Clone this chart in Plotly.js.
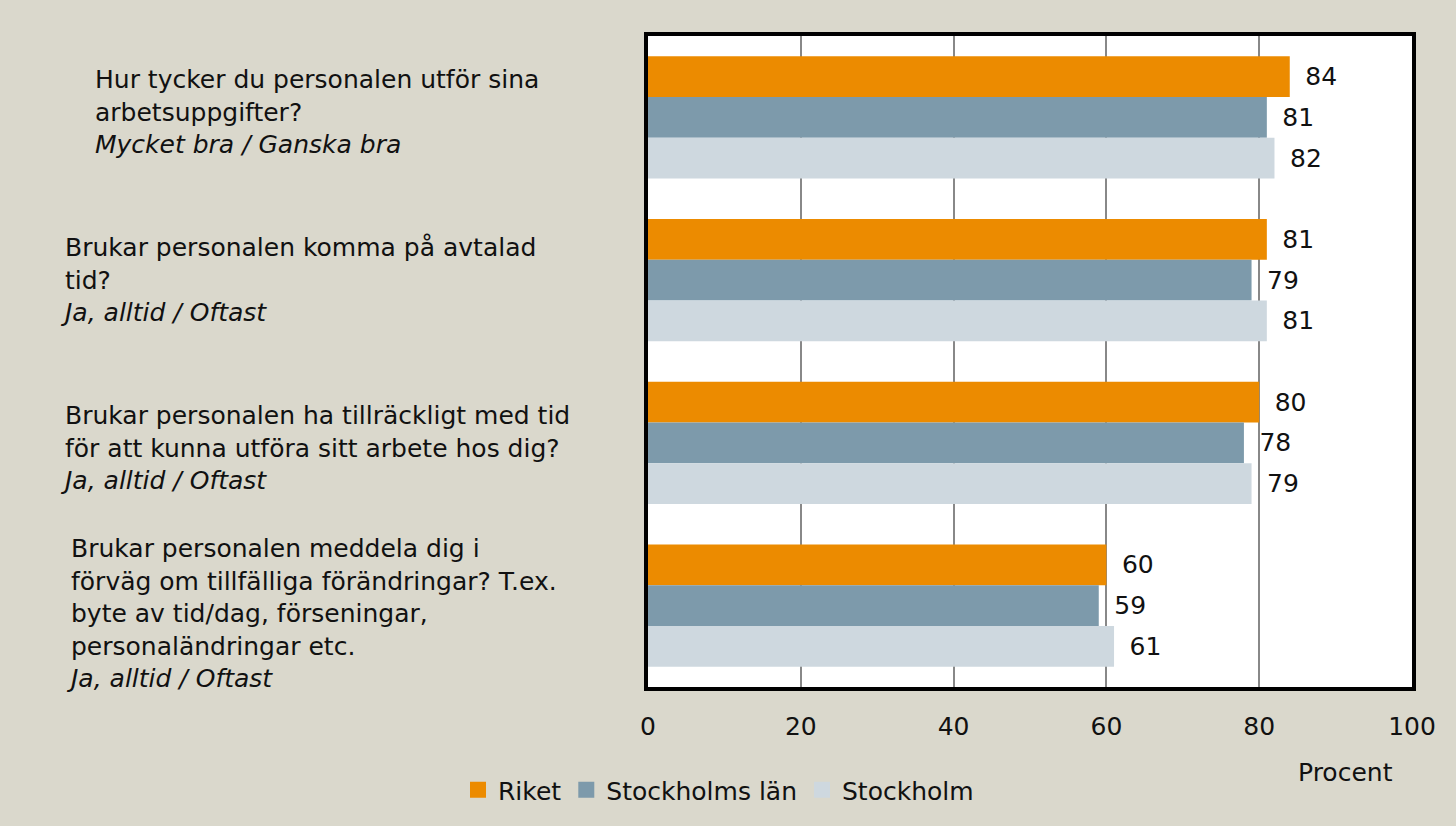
<!DOCTYPE html>
<html>
<head>
<meta charset="utf-8">
<script src="https://cdn.plot.ly/plotly-3.0.1.min.js"></script>
<style>
  html, body { margin: 0; padding: 0; background: #DAD8CC; }
  #chart { width: 1456px; height: 826px; }
</style>
</head>
<body>
<div id="chart"></div>
<script>
// ---- data ----
const categories = [
  "Hur tycker du personalen utför sina arbetsuppgifter?",
  "Brukar personalen komma på avtalad tid?",
  "Brukar personalen ha tillräckligt med tid för att kunna utföra sitt arbete hos dig?",
  "Brukar personalen meddela dig i förväg om tillfälliga förändringar? T.ex. byte av tid/dag, förseningar, personaländringar etc."
];
const categoryLabels = [
  "Hur tycker du personalen utför sina<br>arbetsuppgifter?<br><i>Mycket bra / Ganska bra</i>",
  "Brukar personalen komma på avtalad<br>tid?<br><i>Ja, alltid / Oftast</i>",
  "Brukar personalen ha tillräckligt med tid<br>för att kunna utföra sitt arbete hos dig?<br><i>Ja, alltid / Oftast</i>",
  "Brukar personalen meddela dig i<br>förväg om tillfälliga förändringar? T.ex.<br>byte av tid/dag, förseningar,<br>personaländringar etc.<br><i>Ja, alltid / Oftast</i>"
];
const seriesNames = ["Riket", "Stockholms län", "Stockholm"];
const riket = [84, 81, 80, 60];
const stockholmsLan = [81, 79, 78, 59];
const stockholm = [82, 81, 79, 61];
const xTickValues = [0, 20, 40, 60, 80, 100];
const xAxisTitle = "Procent";

// ---- styling ----
const colors = ["#EC8B00", "#7D9AAB", "#CED8DF"];
const FONT = "DejaVu Sans, sans-serif";
const FS = 25;
const plotLeft = 648, plotRight = 1412, plotTop = 36, plotBottom = 687;
const W = 1456, H = 826;
const labelLeftPx = [93, 58, 58, 64];
const labelYShift = [5, 0, -5, -8];

const seriesValues = [riket, stockholmsLan, stockholm];
const traces = seriesValues.map((vals, i) => ({
  type: "bar",
  orientation: "h",
  name: seriesNames[i],
  x: vals,
  y: categories,
  marker: { color: colors[i], line: { width: 0 } },
  text: vals.map(String),
  texttemplate: "\u2002%{text}",
  textposition: "outside",
  textfont: { family: FONT, size: FS, color: "#111" },
  cliponaxis: false,
  hoverinfo: "x+name"
}));

const annotations = categories.map((c, i) => ({
  xref: "paper", yref: "y",
  x: 0, y: c,
  xshift: labelLeftPx[i] - plotLeft,
  yshift: labelYShift[i],
  xanchor: "left", yanchor: "middle",
  align: "left",
  text: categoryLabels[i],
  showarrow: false,
  font: { family: FONT, size: FS, color: "#111" }
}));
annotations.push({
  xref: "paper", yref: "paper",
  x: (1345 - plotLeft) / (plotRight - plotLeft),
  y: -(772 - plotBottom) / (plotBottom - plotTop),
  xanchor: "center", yanchor: "middle",
  text: xAxisTitle, showarrow: false,
  font: { family: FONT, size: FS, color: "#111" }
});

const layout = {
  width: W, height: H,
  paper_bgcolor: "#DAD8CC",
  plot_bgcolor: "#FFFFFF",
  margin: { l: plotLeft, r: W - plotRight, t: plotTop, b: H - plotBottom, pad: 0 },
  barmode: "group",
  bargap: 0.25,
  bargroupgap: 0,
  font: { family: FONT, size: FS, color: "#111" },
  xaxis: {
    range: [0, 100],
    tickvals: xTickValues,
    ticktext: xTickValues.map(String),
    showgrid: true, gridcolor: "#888888", gridwidth: 2,
    zeroline: false,
    showline: true, linecolor: "#000", linewidth: 4, mirror: true,
    ticks: "", ticklabelstandoff: 14,
    tickfont: { family: FONT, size: FS, color: "#111" },
    fixedrange: true
  },
  yaxis: {
    autorange: "reversed",
    showticklabels: false,
    showgrid: false, zeroline: false,
    showline: true, linecolor: "#000", linewidth: 4, mirror: true,
    ticks: "",
    fixedrange: true
  },
  showlegend: true,
  legend: {
    orientation: "h",
    xref: "container", yref: "container",
    x: 458 / W, y: (H - 790) / H,
    xanchor: "left", yanchor: "middle",
    bgcolor: "rgba(0,0,0,0)",
    font: { family: FONT, size: FS, color: "#111" },
    itemwidth: 30,
    traceorder: "normal"
  },
  annotations: annotations
};

Plotly.newPlot("chart", traces, layout, { displayModeBar: false, staticPlot: true }).then(() => {
  document.querySelectorAll("#chart .legendpoints path").forEach(p => {
    p.setAttribute("d", "M8,8H-8V-8H8Z");
  });
});
</script>
</body>
</html>
